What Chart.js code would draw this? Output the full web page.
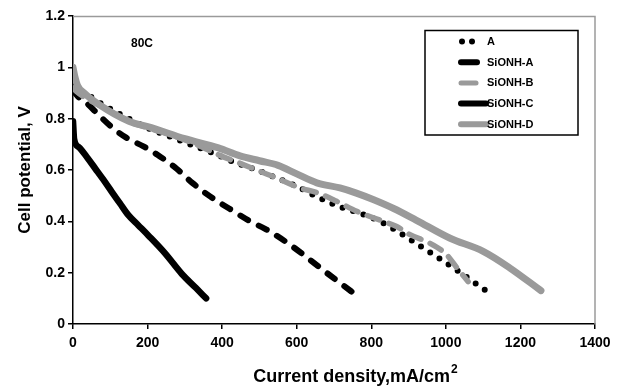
<!DOCTYPE html>
<html>
<head>
<meta charset="utf-8">
<script src="https://cdn.jsdelivr.net/npm/chart.js@4.4.0/dist/chart.umd.min.js"></script>
<style>
  html, body { margin: 0; padding: 0; background: #fff; }
  canvas { display: block; }
</style>
</head>
<body>
<canvas id="chart" width="623" height="388"></canvas>
<script>
// values
const seriesNames = ['A', 'SiONH-A', 'SiONH-B', 'SiONH-C', 'SiONH-D'];

const densityA = [0, 10, 37, 80, 130, 170, 211, 270, 323, 381, 430, 493, 546, 604, 654, 712, 766, 823, 877, 926, 977, 1027, 1078, 1108];
const potentialA = [0.93, 0.915, 0.895, 0.855, 0.815, 0.785, 0.757, 0.725, 0.695, 0.663, 0.632, 0.60, 0.569, 0.534, 0.496, 0.459, 0.433, 0.40, 0.355, 0.309, 0.261, 0.212, 0.16, 0.13];

const densitySiA = [0, 14, 37, 72, 108, 144, 189, 233, 278, 320, 360, 394, 421, 475, 519, 573, 618, 662, 716, 762];
const potentialSiA = [0.91, 0.885, 0.86, 0.81, 0.762, 0.725, 0.692, 0.653, 0.605, 0.55, 0.505, 0.472, 0.448, 0.40, 0.368, 0.318, 0.27, 0.22, 0.16, 0.11];

const densitySiB = [0, 10, 40, 80, 150, 210, 270, 330, 394, 450, 501, 546, 609, 654, 707, 761, 832, 868, 904, 957, 1002, 1029, 1060];
const potentialSiB = [0.92, 0.905, 0.875, 0.845, 0.79, 0.76, 0.733, 0.70, 0.657, 0.625, 0.595, 0.569, 0.53, 0.512, 0.478, 0.439, 0.40, 0.38, 0.348, 0.315, 0.27, 0.22, 0.165];

const densitySiC = [0, 3, 15, 40, 60, 80, 104, 126, 148, 175, 202, 247, 292, 330, 357];
const potentialSiC = [0.79, 0.72, 0.69, 0.645, 0.605, 0.565, 0.515, 0.47, 0.425, 0.385, 0.345, 0.275, 0.195, 0.14, 0.10];

const densitySiD = [0, 4, 12, 30, 70, 150, 210, 300, 390, 448, 500, 550, 600, 654, 716, 760, 805, 860, 920, 1010, 1100, 1170, 1255];
const potentialSiD = [1.0, 0.97, 0.93, 0.90, 0.855, 0.79, 0.765, 0.722, 0.686, 0.655, 0.636, 0.618, 0.585, 0.55, 0.53, 0.51, 0.485, 0.45, 0.405, 0.335, 0.283, 0.22, 0.13];

const densityTicks = [0, 200, 400, 600, 800, 1000, 1200, 1400];
const potentialTicks = [0, 0.2, 0.4, 0.6, 0.8, 1, 1.2];

const xTitle = 'Current density,mA/cm';
const xTitleSup = '2';
const yTitle = 'Cell potential, V';
const noteText = '80C';

const GRAY = '#9a9a9a';
const FONT = "'Liberation Sans', Arial, Helvetica, sans-serif";

function toPoints(xs, ys) {
  return xs.map((x, i) => ({ x: x, y: ys[i] }));
}

function fixedTicks(values) {
  return (scale) => {
    scale.ticks = values.map((v) => ({ value: v }));
  };
}

// legend sample per series
const legendSamples = [
  { dots: [462, 472], width: 6 },
  { from: 461, to: 477, width: 6 },
  { from: 461, to: 476, width: 5 },
  { from: 461, to: 486, width: 6 },
  { from: 461, to: 486, width: 6 }
];

const decorations = {
  id: 'decorations',
  afterDraw(chart) {
    const ctx = chart.ctx;
    const area = chart.chartArea;
    ctx.save();

    // grey frame on top and right
    ctx.strokeStyle = GRAY;
    ctx.lineWidth = 1.5;
    ctx.beginPath();
    ctx.moveTo(area.left, area.top + 0.5);
    ctx.lineTo(area.right, area.top + 0.5);
    ctx.lineTo(area.right, area.bottom);
    ctx.stroke();

    // note
    ctx.fillStyle = '#000';
    ctx.font = 'bold 12px ' + FONT;
    ctx.textAlign = 'center';
    ctx.textBaseline = 'middle';
    ctx.fillText(noteText, area.left + 69, area.top + 28);

    // x title with superscript
    ctx.font = 'bold 18px ' + FONT;
    const mainW = ctx.measureText(xTitle).width;
    ctx.font = 'bold 12px ' + FONT;
    const supW = ctx.measureText(xTitleSup).width;
    const cx = (area.left + area.right) / 2 + 21;
    const startX = cx - (mainW + supW) / 2;
    ctx.textAlign = 'left';
    ctx.textBaseline = 'alphabetic';
    ctx.font = 'bold 18px ' + FONT;
    ctx.fillText(xTitle, startX, 382);
    ctx.font = 'bold 12px ' + FONT;
    ctx.fillText(xTitleSup, startX + mainW + 1, 373);

    // legend box
    ctx.strokeStyle = '#000';
    ctx.lineWidth = 1.5;
    ctx.strokeRect(425, 30.5, 153, 104.5);

    chart.data.datasets.forEach((ds, i) => {
      const y = 41.5 + i * 20.7;
      const s = legendSamples[i];
      ctx.strokeStyle = ds.borderColor;
      ctx.fillStyle = ds.borderColor;
      if (s.dots) {
        s.dots.forEach((dx) => {
          ctx.beginPath();
          ctx.arc(dx, y, s.width / 2, 0, Math.PI * 2);
          ctx.fill();
        });
      } else {
        ctx.lineWidth = s.width;
        ctx.lineCap = 'round';
        ctx.beginPath();
        ctx.moveTo(s.from, y);
        ctx.lineTo(s.to, y);
        ctx.stroke();
      }
      ctx.fillStyle = '#000';
      ctx.font = 'bold 11px ' + FONT;
      ctx.textBaseline = 'middle';
      ctx.fillText(ds.label, 487, y + 0.5);
    });

    ctx.restore();
  }
};

const lineBase = {
  showLine: true,
  pointRadius: 0,
  pointHoverRadius: 0,
  fill: false,
  cubicInterpolationMode: 'monotone',
  borderCapStyle: 'round',
  borderJoinStyle: 'round'
};

new Chart(document.getElementById('chart'), {
  type: 'scatter',
  data: {
    datasets: [
      { ...lineBase, label: seriesNames[0], data: toPoints(densityA, potentialA),
        borderColor: '#000', borderWidth: 6, borderDash: [0, 11], order: 5 },
      { ...lineBase, label: seriesNames[1], data: toPoints(densitySiA, potentialSiA),
        borderColor: '#000', borderWidth: 6, borderDash: [9, 12], order: 4 },
      { ...lineBase, label: seriesNames[2], data: toPoints(densitySiB, potentialSiB),
        borderColor: GRAY, borderWidth: 5.5, borderDash: [13, 10], order: 3 },
      { ...lineBase, label: seriesNames[3], data: toPoints(densitySiC, potentialSiC),
        borderColor: '#000', borderWidth: 6.5, order: 2 },
      { ...lineBase, label: seriesNames[4], data: toPoints(densitySiD, potentialSiD),
        borderColor: GRAY, borderWidth: 7, order: 1 }
    ]
  },
  options: {
    responsive: false,
    animation: false,
    events: [],
    layout: { padding: { top: 16, right: 28, left: 0, bottom: 0 } },
    plugins: {
      legend: { display: false },
      tooltip: { enabled: false }
    },
    scales: {
      x: {
        type: 'linear',
        min: 0,
        max: 1400,
        afterBuildTicks: fixedTicks(densityTicks),
        afterFit: (s) => { s.height = 64; },
        ticks: {
          callback: (v) => String(v),
          color: '#000',
          font: { family: FONT, size: 14, weight: 'bold' },
          padding: 6,
          maxRotation: 0,
          autoSkip: false
        },
        grid: { drawOnChartArea: false, drawTicks: true, tickLength: 5, color: '#000', lineWidth: 1.5 },
        border: { display: true, color: '#000', width: 1.5 }
      },
      y: {
        type: 'linear',
        min: 0,
        max: 1.2,
        afterBuildTicks: fixedTicks(potentialTicks),
        afterFit: (s) => { s.width = 73; },
        ticks: {
          callback: (v) => String(v),
          color: '#000',
          font: { family: FONT, size: 14, weight: 'bold' },
          padding: 3,
          autoSkip: false
        },
        grid: { drawOnChartArea: false, drawTicks: true, tickLength: 5, color: '#000', lineWidth: 1.5 },
        border: { display: true, color: '#000', width: 1.5 },
        title: {
          display: true,
          text: yTitle,
          color: '#000',
          font: { family: FONT, size: 17, weight: 'bold' },
          padding: { top: 15, bottom: 0 }
        }
      }
    }
  },
  plugins: [decorations]
});
</script>
</body>
</html>
